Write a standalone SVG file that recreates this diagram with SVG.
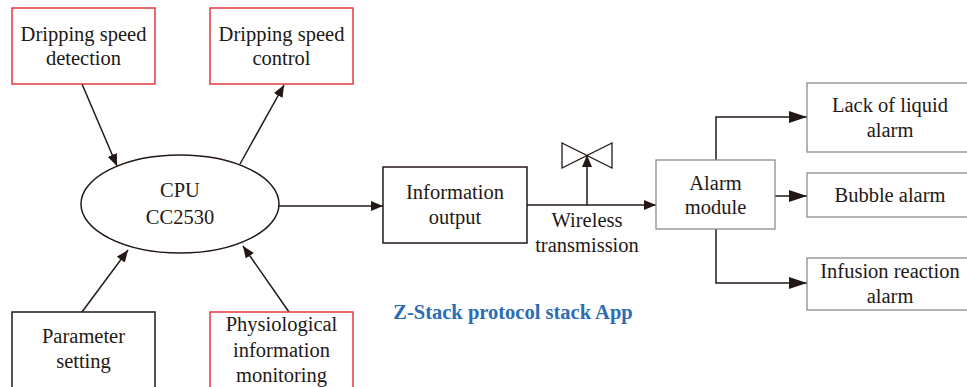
<svg xmlns="http://www.w3.org/2000/svg" width="967" height="387" viewBox="0 0 967 387">
<style>
text{font-family:'Liberation Serif','DejaVu Serif',serif;font-size:20.5px;fill:#231815;text-anchor:middle}
.blk{fill:#fff;stroke:#231815;stroke-width:1.5}
.red{fill:#fff;stroke:#e5383c;stroke-width:1.5}
.gry{fill:#fff;stroke:#8c8c8c;stroke-width:1.3}
.ln{fill:none;stroke:#231815;stroke-width:1.5}
.ttl{font-weight:bold;fill:#2a6db5;font-size:20.5px}
</style>
<defs>
<marker id="a" markerUnits="userSpaceOnUse" markerWidth="12" markerHeight="10" refX="12" refY="5" orient="auto"><path d="M0,0 L12,5 L0,10 Z" fill="#231815"/></marker>
<marker id="b" markerUnits="userSpaceOnUse" markerWidth="18" markerHeight="12" refX="18" refY="6" orient="auto"><path d="M0,0 L18,6 L0,12 Z" fill="#231815"/></marker>
</defs>
<g id="connectors">
<line class="ln" x1="82" y1="84" x2="117" y2="166" marker-end="url(#a)"/>
<line class="ln" x1="240" y1="164" x2="284" y2="85" marker-end="url(#a)"/>
<line class="ln" x1="82" y1="312" x2="128" y2="250" marker-end="url(#a)"/>
<line class="ln" x1="289" y1="312" x2="243" y2="246" marker-end="url(#a)"/>
<line class="ln" x1="279" y1="206" x2="383" y2="206" marker-end="url(#a)"/>
<line class="ln" x1="527" y1="205" x2="656" y2="205" marker-end="url(#a)"/>
<line class="ln" x1="587" y1="205" x2="587" y2="155" marker-end="url(#a)"/>
<polyline class="ln" points="716,160 716,117 807,117" marker-end="url(#b)"/>
<line class="ln" x1="775" y1="196" x2="807" y2="196" marker-end="url(#b)"/>
<polyline class="ln" points="716,229 716,283 807,283" marker-end="url(#b)"/>
</g>
<g id="antenna">
<polygon points="562,143 562,168 587,155.5" fill="none" stroke="#231815" stroke-width="1.3"/>
<polygon points="612,143 612,168 587,155.5" fill="none" stroke="#231815" stroke-width="1.3"/>
</g>
<g id="n-detect"><rect class="red" x="12" y="8" width="143" height="76"/><text x="83.5" y="41">Dripping speed</text><text x="83.5" y="65">detection</text></g>
<g id="n-control"><rect class="red" x="210" y="8" width="143" height="76"/><text x="281.5" y="41">Dripping speed</text><text x="281.5" y="65">control</text></g>
<g id="n-cpu"><ellipse class="blk" cx="180" cy="204" rx="99" ry="49"/><text x="180" y="197">CPU</text><text x="180" y="224">CC2530</text></g>
<g id="n-param"><rect class="blk" x="12" y="312" width="143" height="90"/><text x="83.5" y="343">Parameter</text><text x="83.5" y="368">setting</text></g>
<g id="n-physio"><rect class="red" x="210" y="312" width="143" height="90"/><text x="281.5" y="331">Physiological</text><text x="281.5" y="357">information</text><text x="281.5" y="382">monitoring</text></g>
<g id="n-info"><rect class="blk" x="383" y="167" width="144" height="76"/><text x="455" y="199">Information</text><text x="455" y="224">output</text></g>
<g id="l-wireless"><text x="587" y="227">Wireless</text><text x="587" y="252">transmission</text></g>
<g id="n-alarm"><rect class="gry" x="656" y="160" width="119" height="69"/><text x="715.5" y="190">Alarm</text><text x="715.5" y="214">module</text></g>
<g id="n-lack"><rect class="gry" x="807" y="83" width="175" height="69"/><text x="890" y="112">Lack of liquid</text><text x="890" y="137">alarm</text></g>
<g id="n-bubble"><rect class="gry" x="807" y="173" width="175" height="44"/><text x="890" y="202">Bubble alarm</text></g>
<g id="n-infusion"><rect class="gry" x="807" y="258" width="175" height="52"/><text x="890" y="278">Infusion reaction</text><text x="890" y="303">alarm</text></g>
<text class="ttl" x="513" y="319">Z-Stack protocol stack App</text>
</svg>
